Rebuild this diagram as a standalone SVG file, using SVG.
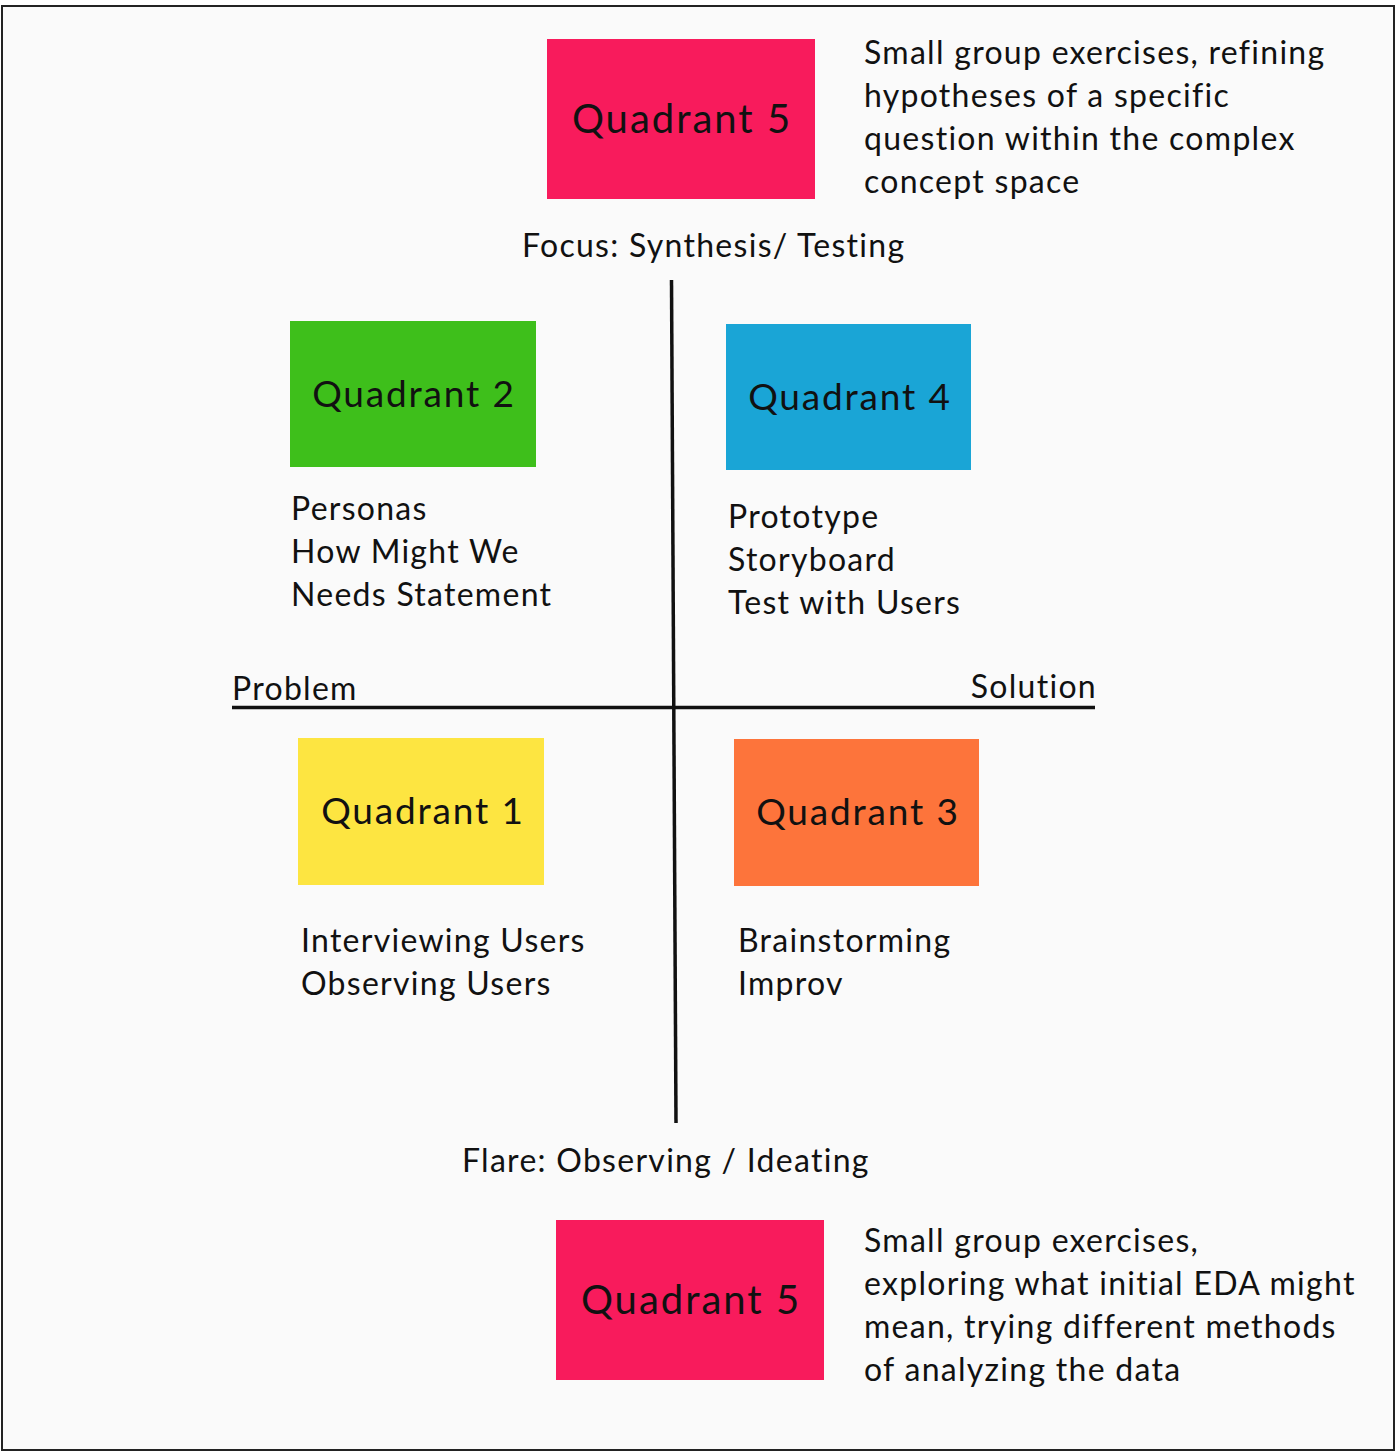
<svg xmlns="http://www.w3.org/2000/svg" width="1400" height="1456" viewBox="0 0 1400 1456">
  <style>
    .lbl { font-family: Lato, "Noto Sans", "Liberation Sans", sans-serif; fill: #111; letter-spacing: 0.04em; }
    .qt { font-size: 37px; text-anchor: middle; letter-spacing: 0.05em; }
    .q5 { font-size: 40px; }
    .tx { font-size: 32px; }
    .axis { stroke: #111; stroke-width: 3.5; fill: none; }
  </style>
  <!-- page -->
  <rect x="2" y="6" width="1392" height="1444" fill="#fafafa" stroke="#222" stroke-width="2"/>

  <!-- axes -->
  <g id="connectors">
    <line class="axis" x1="671.5" y1="280" x2="676" y2="1123"/>
    <line class="axis" x1="232" y1="707.5" x2="1095" y2="707.5"/>
  </g>

  <g id="q5-top">
    <rect x="547" y="39" width="268" height="160" fill="#f81b5c"/>
    <text class="lbl qt q5" x="682" y="133">Quadrant 5</text>
  </g>
  <g id="q5-top-note" class="lbl tx">
    <text x="864" y="64">Small group exercises, refining</text>
    <text x="864" y="107">hypotheses of a specific</text>
    <text x="864" y="150">question within the complex</text>
    <text x="864" y="193">concept space</text>
  </g>
  <text id="focus" class="lbl tx" x="522" y="257">Focus: Synthesis/ Testing</text>

  <g id="q2">
    <rect x="290" y="321" width="246" height="146" fill="#3ebf1b"/>
    <text class="lbl qt" x="414" y="407">Quadrant 2</text>
  </g>
  <g id="q2-list" class="lbl tx">
    <text x="291" y="520">Personas</text>
    <text x="291" y="563">How Might We</text>
    <text x="291" y="606">Needs Statement</text>
  </g>

  <g id="q4">
    <rect x="726" y="324" width="245" height="146" fill="#1aa5d6"/>
    <text class="lbl qt" x="850" y="410">Quadrant 4</text>
  </g>
  <g id="q4-list" class="lbl tx">
    <text x="728" y="528">Prototype</text>
    <text x="728" y="571">Storyboard</text>
    <text x="728" y="614">Test with Users</text>
  </g>

  <text id="problem" class="lbl tx" x="232" y="700">Problem</text>
  <text id="solution" class="lbl tx" x="1097" y="698" text-anchor="end">Solution</text>

  <g id="q1">
    <rect x="298" y="738" width="246" height="147" fill="#fde541"/>
    <text class="lbl qt" x="423" y="824">Quadrant 1</text>
  </g>
  <g id="q1-list" class="lbl tx">
    <text x="301" y="952">Interviewing Users</text>
    <text x="301" y="995">Observing Users</text>
  </g>

  <g id="q3">
    <rect x="734" y="739" width="245" height="147" fill="#fd743b"/>
    <text class="lbl qt" x="858" y="825">Quadrant 3</text>
  </g>
  <g id="q3-list" class="lbl tx">
    <text x="738" y="952">Brainstorming</text>
    <text x="738" y="995">Improv</text>
  </g>

  <text id="flare" class="lbl tx" x="462" y="1172">Flare: Observing / Ideating</text>

  <g id="q5-bottom">
    <rect x="556" y="1220" width="268" height="160" fill="#f81b5c"/>
    <text class="lbl qt q5" x="691" y="1314">Quadrant 5</text>
  </g>
  <g id="q5-bottom-note" class="lbl tx">
    <text x="864" y="1252">Small group exercises,</text>
    <text x="864" y="1295">exploring what initial EDA might</text>
    <text x="864" y="1338">mean, trying different methods</text>
    <text x="864" y="1381">of analyzing the data</text>
  </g>
</svg>
